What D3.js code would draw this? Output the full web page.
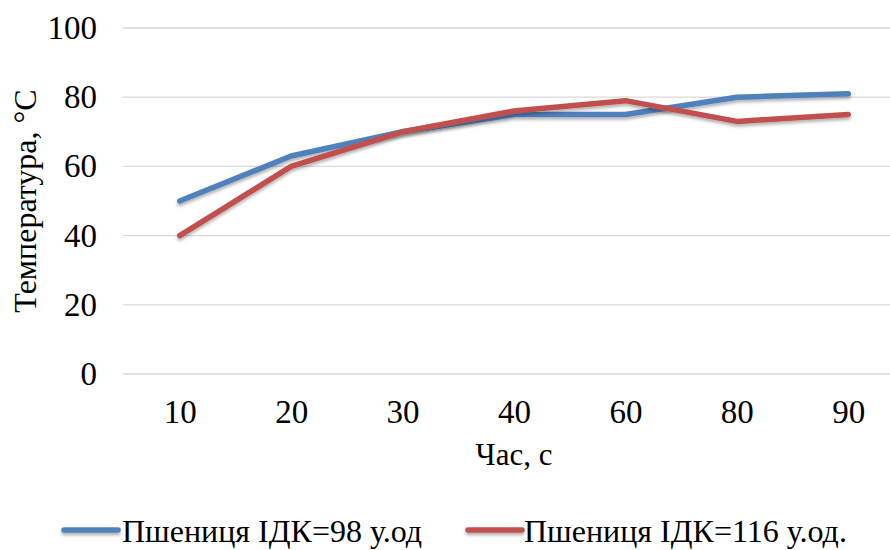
<!DOCTYPE html>
<html>
<head>
<meta charset="utf-8">
<script src="https://cdn.jsdelivr.net/npm/d3@7"></script>
<style>
  html, body { margin: 0; padding: 0; background: #fff; }
  svg { display: block; font-family: "Liberation Serif", "Times New Roman", serif; }
</style>
</head>
<body>
<svg id="chart" width="890" height="550"></svg>
<script>
// Heating time, s
const categories = ["10", "20", "30", "40", "60", "80", "90"];
// Temperature, °C
const wheat98 = [50, 63, 70, 75, 75, 80, 81];
const wheat116 = [40, 60, 70, 76, 79, 73, 75];
const yTicks = [0, 20, 40, 60, 80, 100];
const seriesNames = ["Пшениця ІДК=98 у.од", "Пшениця ІДК=116 у.од."];
const seriesColors = ["#4F81BD", "#C0504D"];

const svg = d3.select("#chart");
const FONT = "Liberation Serif, Times New Roman, serif";

const x = d3.scalePoint().domain(categories).range([124, 904]).padding(0.5);
const y = d3.scaleLinear().domain([0, 100]).range([374, 28]);

// soft drop shadow under the lines (user space so flat legend strokes keep it)
const defs = svg.append("defs");
const f = defs.append("filter").attr("id", "shadow")
  .attr("filterUnits", "userSpaceOnUse")
  .attr("x", 0).attr("y", 0).attr("width", 890).attr("height", 550);
f.append("feDropShadow").attr("dx", 0).attr("dy", 2.5).attr("stdDeviation", 1.5)
  .attr("flood-color", "#000").attr("flood-opacity", 0.3);

// horizontal gridlines
svg.append("g").selectAll("line").data(yTicks).join("line")
  .attr("x1", 123).attr("x2", 904)
  .attr("y1", d => y(d)).attr("y2", d => y(d))
  .attr("stroke", "#d9d9d9").attr("stroke-width", 1.3);

// y axis labels
const yAxis = d3.axisLeft(y).tickValues(yTicks).tickSize(0).tickPadding(0);
const gy = svg.append("g").attr("transform", "translate(97,0)").call(yAxis);
gy.select(".domain").remove();
gy.attr("font-family", FONT);
gy.selectAll("text").attr("font-size", 33).attr("fill", "#000");

// x axis labels
const xAxis = d3.axisBottom(x).tickSize(0).tickPadding(0);
const gx = svg.append("g").attr("transform", "translate(0,400)").call(xAxis);
gx.select(".domain").remove();
gx.attr("font-family", FONT);
gx.selectAll("text").attr("font-size", 33).attr("fill", "#000");

// axis titles
svg.append("text").attr("x", 514).attr("y", 465).attr("text-anchor", "middle")
  .attr("font-size", 31).text("Час, с");
svg.append("text").attr("transform", "translate(36,201) rotate(-90)")
  .attr("text-anchor", "middle").attr("font-size", 32).text("Температура, °С");

// series lines
const line = d3.line().x((d, i) => x(categories[i])).y(d => y(d));
[wheat98, wheat116].forEach((s, k) => {
  svg.append("path").datum(s)
    .attr("d", line)
    .attr("fill", "none")
    .attr("stroke", seriesColors[k])
    .attr("stroke-width", 5.5)
    .attr("stroke-linecap", "round")
    .attr("stroke-linejoin", "round")
    .attr("filter", "url(#shadow)");
});

// legend
const legendItems = [{ x: 64, tx: 122 }, { x: 468, tx: 524 }];
legendItems.forEach((p, k) => {
  svg.append("line").attr("x1", p.x).attr("x2", p.x + 54)
    .attr("y1", 530).attr("y2", 530)
    .attr("stroke", seriesColors[k]).attr("stroke-width", 5.5)
    .attr("stroke-linecap", "round").attr("filter", "url(#shadow)");
  svg.append("text").attr("x", p.tx).attr("y", 542)
    .attr("font-size", 32).text(seriesNames[k]);
});
</script>
</body>
</html>
